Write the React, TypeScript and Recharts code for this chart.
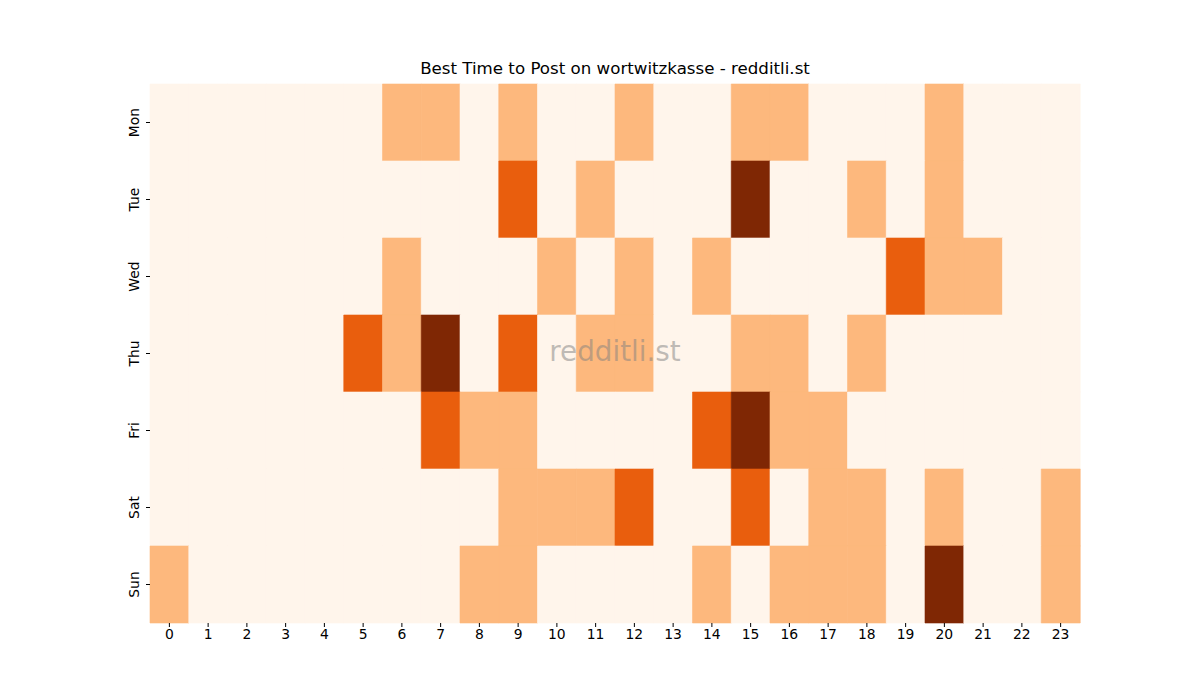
import React from "react";
import { BarChart, Bar, Cell, XAxis, YAxis } from "recharts";

// Posting activity per weekday (rows) and hour (columns), 0 = none, 3 = most
const days = ["Mon", "Tue", "Wed", "Thu", "Fri", "Sat", "Sun"];
const hours = Array.from({ length: 24 }, (_, i) => i);

const mon = [0, 0, 0, 0, 0, 0, 1, 1, 0, 1, 0, 0, 1, 0, 0, 1, 1, 0, 0, 0, 1, 0, 0, 0];
const tue = [0, 0, 0, 0, 0, 0, 0, 0, 0, 2, 0, 1, 0, 0, 0, 3, 0, 0, 1, 0, 1, 0, 0, 0];
const wed = [0, 0, 0, 0, 0, 0, 1, 0, 0, 0, 1, 0, 1, 0, 1, 0, 0, 0, 0, 2, 1, 1, 0, 0];
const thu = [0, 0, 0, 0, 0, 2, 1, 3, 0, 2, 0, 1, 1, 0, 0, 1, 1, 0, 1, 0, 0, 0, 0, 0];
const fri = [0, 0, 0, 0, 0, 0, 0, 2, 1, 1, 0, 0, 0, 0, 2, 3, 1, 1, 0, 0, 0, 0, 0, 0];
const sat = [0, 0, 0, 0, 0, 0, 0, 0, 0, 1, 1, 1, 2, 0, 0, 2, 0, 1, 1, 0, 1, 0, 0, 1];
const sun = [1, 0, 0, 0, 0, 0, 0, 0, 1, 1, 0, 0, 0, 0, 1, 0, 1, 1, 1, 0, 3, 0, 0, 1];

const grid = [mon, tue, wed, thu, fri, sat, sun];

// Oranges colormap steps
const palette = ["#fff5eb", "#fdb87d", "#e95e0d", "#7f2704"];

// every cell is one unit tall, stacked Mon..Sun
const data = hours.map((h) => {
  const row: Record<string, number> = { hour: h };
  days.forEach((d) => (row[d] = 1));
  return row;
});

const font = "DejaVu Sans, sans-serif";

const DayTick = (props: any) => {
  const { x, y, payload } = props;
  const label = days[Math.floor(payload.value)];
  const tx = x - 10;
  return (
    <text
      x={tx}
      y={y}
      dy="0.355em"
      textAnchor="middle"
      transform={`rotate(-90, ${tx}, ${y})`}
      fontSize={13.9}
      fontFamily={font}
      fill="#000"
    >
      {label}
    </text>
  );
};

export default function App() {
  return (
    <div
      style={{
        position: "absolute",
        left: 0,
        top: 0,
        width: 1200,
        height: 700,
        background: "#fff",
        fontFamily: font,
      }}
    >
      <div
        style={{
          position: "absolute",
          top: 59,
          left: 150,
          width: 930,
          textAlign: "center",
          fontSize: 16.67,
          color: "#000",
        }}
      >
        Best Time to Post on wortwitzkasse - redditli.st
      </div>
      <BarChart
        width={1200}
        height={700}
        data={data}
        margin={{ top: 84, right: 120, bottom: 47, left: 120 }}
        barCategoryGap={0}
        barGap={0}
      >
        <XAxis
          dataKey="hour"
          axisLine={false}
          tickLine={{ stroke: "#000" }}
          tickSize={4}
          height={30}
          interval={0}
          tick={{ fontSize: 13.9, fill: "#000", fontFamily: font }}
        />
        <YAxis
          type="number"
          domain={[0, 7]}
          reversed
          ticks={[0.5, 1.5, 2.5, 3.5, 4.5, 5.5, 6.5]}
          axisLine={false}
          tickLine={{ stroke: "#000" }}
          tickSize={4}
          width={30}
          tick={<DayTick />}
        />
        {days.map((d, di) => (
          <Bar key={d} dataKey={d} stackId="a" isAnimationActive={false}>
            {hours.map((h) => (
              <Cell
                key={h}
                fill={palette[grid[di][h]]}
                stroke={palette[grid[di][h]]}
                strokeWidth={0.6}
              />
            ))}
          </Bar>
        ))}
      </BarChart>
      <div
        style={{
          position: "absolute",
          left: 150,
          width: 930,
          top: 335,
          textAlign: "center",
          fontSize: 27.8,
          color: "rgba(128,128,128,0.5)",
          pointerEvents: "none",
        }}
      >
        redditli.st
      </div>
    </div>
  );
}
